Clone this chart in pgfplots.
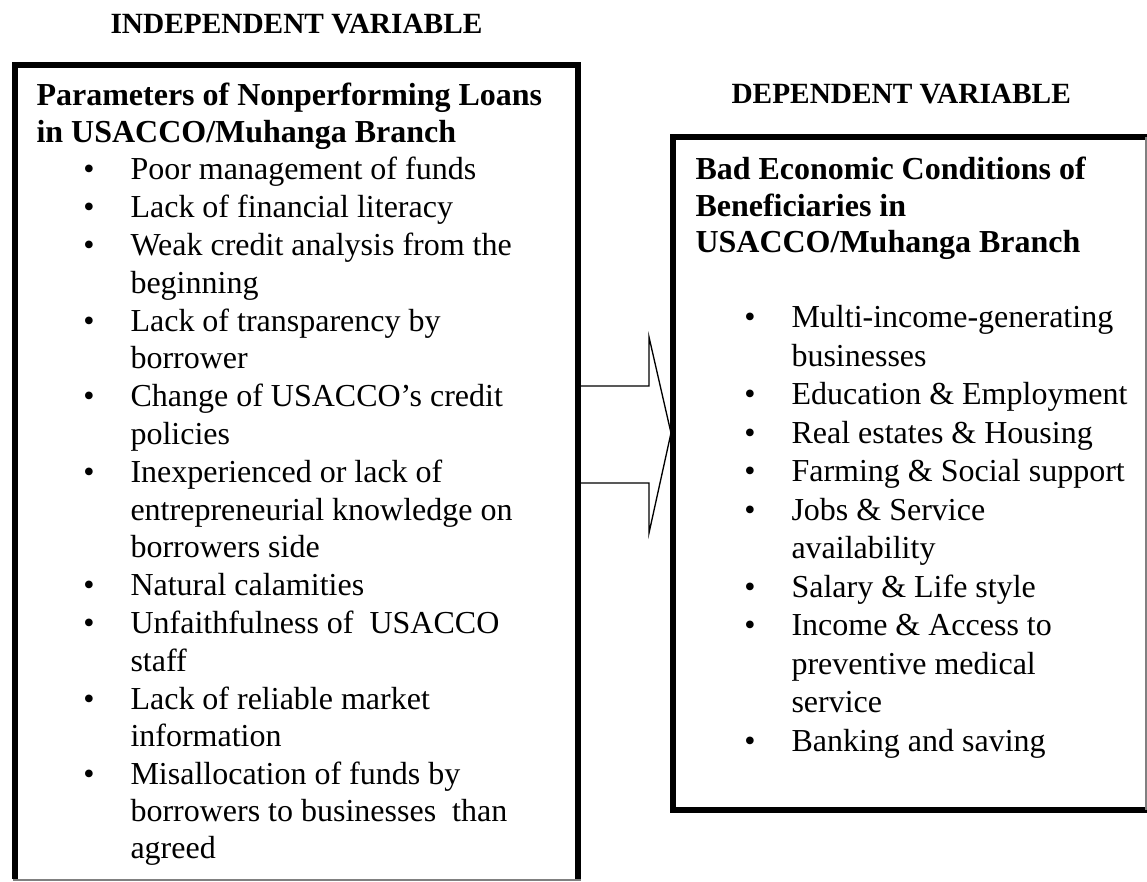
\documentclass[border=0pt]{standalone}
\usepackage{pgfplots}
\pgfplotsset{compat=1.18}
\usepackage{fontspec}
\setmainfont{Liberation Serif}
\begin{document}
\begin{tikzpicture}
\begin{axis}[width=430.125pt, height=330.75pt, scale only axis,
  xmin=0, xmax=1147, ymin=0, ymax=882, y dir=reverse,
  hide axis, clip=false]
% boxes
\addplot[black, line width=2.25pt, mark=none] coordinates {(15,879) (15,65) (578,65) (578,879)};
\addplot[gray, line width=0.75pt, mark=none] coordinates {(13,880) (581,880)};
\addplot[black, line width=2.25pt, mark=none] coordinates {(1147,810) (673,810) (673,137) (1147,137)};
\addplot[gray, line width=0.75pt, mark=none] coordinates {(1145.8,137) (1145.8,810)};
% arrow
\addplot[black, line width=0.5pt, mark=none] coordinates {(580,386) (649,386) (649,337) (671,433) (649,533) (649,483) (580,483)};
% headers
\tikzset{tx/.style={anchor=base west, inner sep=0pt, font=\fontsize{12}{14}\selectfont},
  bl/.style={anchor=base, inner sep=0pt, font=\fontsize{12}{14}\selectfont}}
\node[anchor=base west, inner sep=0pt, font=\fontsize{11}{13}\selectfont\bfseries] at (axis cs:110,34) {INDEPENDENT VARIABLE};
\node[anchor=base west, inner sep=0pt, font=\fontsize{11}{13}\selectfont\bfseries] at (axis cs:731,104) {DEPENDENT VARIABLE};
% left box
\node[tx, font=\fontsize{12}{14}\selectfont\bfseries] at (axis cs:36,106) {Parameters of Nonperforming Loans};
\node[tx, font=\fontsize{12}{14}\selectfont\bfseries] at (axis cs:36,143) {in USACCO/Muhanga Branch};
\node[bl] at (axis cs:89,180) {\textbullet};
\node[bl] at (axis cs:89,217.8) {\textbullet};
\node[bl] at (axis cs:89,255.6) {\textbullet};
\node[bl] at (axis cs:89,331.2) {\textbullet};
\node[bl] at (axis cs:89,406.8) {\textbullet};
\node[bl] at (axis cs:89,482.4) {\textbullet};
\node[bl] at (axis cs:89,595.8) {\textbullet};
\node[bl] at (axis cs:89,633.6) {\textbullet};
\node[bl] at (axis cs:89,709.2) {\textbullet};
\node[bl] at (axis cs:89,784.8) {\textbullet};
\node[tx] at (axis cs:130,180) {Poor management of funds};
\node[tx] at (axis cs:130,217.8) {Lack of financial literacy};
\node[tx] at (axis cs:130,255.6) {Weak credit analysis from the};
\node[tx] at (axis cs:130,293.4) {beginning};
\node[tx] at (axis cs:130,331.2) {Lack of transparency by};
\node[tx] at (axis cs:130,369) {borrower};
\node[tx] at (axis cs:130,406.8) {Change of USACCO’s credit};
\node[tx] at (axis cs:130,444.6) {policies};
\node[tx] at (axis cs:130,482.4) {Inexperienced or lack of};
\node[tx] at (axis cs:130,520.2) {entrepreneurial knowledge on};
\node[tx] at (axis cs:130,558) {borrowers side};
\node[tx] at (axis cs:130,595.8) {Natural calamities};
\node[tx] at (axis cs:130,633.6) {Unfaithfulness of \ USACCO};
\node[tx] at (axis cs:130,671.4) {staff};
\node[tx] at (axis cs:130,709.2) {Lack of reliable market};
\node[tx] at (axis cs:130,747) {information};
\node[tx] at (axis cs:130,784.8) {Misallocation of funds by};
\node[tx] at (axis cs:130,822) {borrowers to businesses \ than};
\node[tx] at (axis cs:130,859) {agreed};
% right box
\node[tx, font=\fontsize{12}{14}\selectfont\bfseries] at (axis cs:695,180) {Bad Economic Conditions of};
\node[tx, font=\fontsize{12}{14}\selectfont\bfseries] at (axis cs:695,216.5) {Beneficiaries in};
\node[tx, font=\fontsize{12}{14}\selectfont\bfseries] at (axis cs:695,253) {USACCO/Muhanga Branch};
\node[bl] at (axis cs:750,328) {\textbullet};
\node[bl] at (axis cs:750,405) {\textbullet};
\node[bl] at (axis cs:750,443.5) {\textbullet};
\node[bl] at (axis cs:750,482) {\textbullet};
\node[bl] at (axis cs:750,520.5) {\textbullet};
\node[bl] at (axis cs:750,597.5) {\textbullet};
\node[bl] at (axis cs:750,636) {\textbullet};
\node[bl] at (axis cs:750,751.5) {\textbullet};
\node[tx] at (axis cs:791,328) {Multi-income-generating};
\node[tx] at (axis cs:791,366.5) {businesses};
\node[tx] at (axis cs:791,405) {Education \& Employment};
\node[tx] at (axis cs:791,443.5) {Real estates \& Housing};
\node[tx] at (axis cs:791,482) {Farming \& Social support};
\node[tx] at (axis cs:791,520.5) {Jobs \& Service};
\node[tx] at (axis cs:791,559) {availability};
\node[tx] at (axis cs:791,597.5) {Salary \& Life style};
\node[tx] at (axis cs:791,636) {Income \& Access to};
\node[tx] at (axis cs:791,674.5) {preventive medical};
\node[tx] at (axis cs:791,713) {service};
\node[tx] at (axis cs:791,751.5) {Banking and saving};
\end{axis}
\pgfresetboundingbox
\useasboundingbox (current axis.south west) rectangle (current axis.north east);
\end{tikzpicture}
\end{document}
